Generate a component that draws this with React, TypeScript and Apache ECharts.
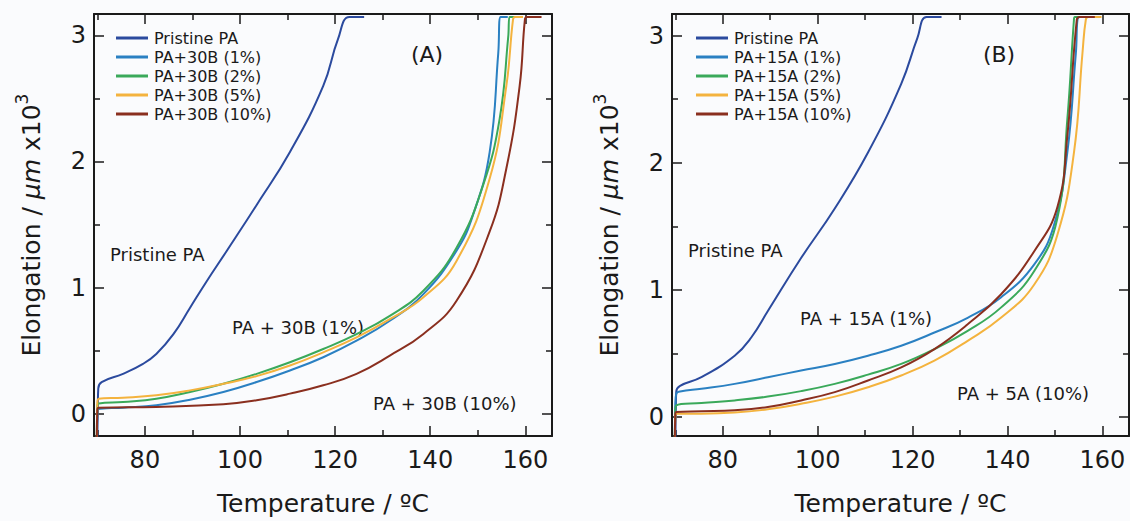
import React, { useEffect, useRef } from "react";
import * as echarts from "echarts";

// ---------- Data (Temperature °C, Elongation µm x10^3) ----------
const pristineA: number[][] = [[70.0,-0.2],[70.1,0.05],[70.2,0.2],[70.9,0.25],[75.4,0.315],[79.6,0.394],[82.4,0.473],[86.0,0.63],[89.5,0.84],[93.0,1.05],[97.2,1.29],[103.5,1.655],[110.5,2.075],[117.5,2.6],[120.6,2.97],[123.0,3.147],[126.1,3.147]];
const pa30b1: number[][] = [[69.9,-0.2],[70.0,0.0],[70.2,0.035],[75.4,0.047],[82.4,0.066],[89.5,0.11],[96.5,0.171],[103.5,0.25],[110.5,0.342],[117.5,0.447],[124.5,0.578],[131.5,0.736],[138.5,0.946],[145.5,1.29],[149.0,1.576],[152.5,2.075],[154.3,2.86],[154.8,3.147],[156.3,3.147]];
const pa30b2: number[][] = [[69.9,-0.2],[70.0,0.05],[70.3,0.079],[75.4,0.092],[82.4,0.118],[89.5,0.171],[96.5,0.236],[103.5,0.315],[110.5,0.407],[117.5,0.512],[124.5,0.63],[131.5,0.775],[138.5,0.972],[145.5,1.313],[151.1,1.81],[154.6,2.34],[156.4,2.99],[156.7,3.147],[158.2,3.147]];
const pa30b5: number[][] = [[69.9,-0.2],[70.0,0.08],[70.3,0.118],[75.4,0.126],[82.4,0.145],[89.5,0.184],[96.5,0.236],[103.5,0.297],[110.5,0.381],[117.5,0.486],[124.5,0.604],[131.5,0.749],[138.5,0.92],[145.5,1.209],[152.5,1.865],[156.0,2.6],[157.4,3.126],[157.8,3.147],[159.5,3.147]];
const pa30b10: number[][] = [[69.9,-0.2],[70.0,0.03],[70.3,0.047],[82.4,0.053],[96.5,0.074],[103.5,0.106],[110.5,0.158],[117.5,0.224],[124.5,0.315],[131.5,0.46],[138.5,0.63],[145.5,0.893],[152.5,1.445],[156.0,1.944],[158.8,2.6],[159.9,3.126],[160.3,3.147],[163.4,3.147]];

const pristineB: number[][] = [[70.0,-0.2],[70.1,0.05],[70.2,0.2],[71.0,0.245],[75.5,0.3125],[82.5,0.482],[86.0,0.625],[89.5,0.833],[96.5,1.25],[103.6,1.64],[110.6,2.08],[117.6,2.62],[121.0,2.98],[122.95,3.146],[126.1,3.146]];
const pa15a1: number[][] = [[69.9,-0.2],[70.0,0.1],[70.2,0.182],[71.0,0.2],[75.5,0.221],[82.5,0.26],[89.5,0.3125],[96.5,0.365],[103.6,0.417],[110.6,0.482],[117.6,0.56],[124.6,0.664],[131.6,0.78],[138.6,0.94],[145.6,1.198],[149.8,1.51],[152.6,2.08],[154.4,2.86],[155.1,3.146],[156.5,3.146]];
const pa15a2: number[][] = [[69.9,-0.2],[70.0,0.05],[70.2,0.091],[75.5,0.109],[82.5,0.13],[89.5,0.16],[96.5,0.203],[103.6,0.26],[110.6,0.333],[117.6,0.417],[124.6,0.534],[131.6,0.677],[138.6,0.86],[145.6,1.146],[150.5,1.5625],[152.6,2.34],[154.0,3.125],[154.2,3.146],[155.5,3.146]];
const pa15a5: number[][] = [[69.9,-0.2],[70.0,0.0],[70.2,0.026],[75.5,0.026],[82.5,0.034],[89.5,0.06],[96.5,0.104],[103.6,0.16],[110.6,0.234],[117.6,0.326],[124.6,0.443],[131.6,0.599],[138.6,0.78],[145.6,1.04],[150.5,1.432],[154.0,2.08],[155.8,2.865],[156.5,3.125],[157.0,3.146],[159.8,3.146]];
const pa15a10: number[][] = [[69.9,-0.2],[70.0,0.02],[70.2,0.039],[75.5,0.044],[82.5,0.052],[89.5,0.078],[96.5,0.13],[103.6,0.195],[110.6,0.287],[117.6,0.39],[124.6,0.534],[131.6,0.729],[138.6,0.963],[145.6,1.302],[150.5,1.65],[152.6,2.21],[154.6,3.125],[155.2,3.146],[158.4,3.146]];

const namesA = ["Pristine PA", "PA+30B (1%)", "PA+30B (2%)", "PA+30B (5%)", "PA+30B (10%)"];
const namesB = ["Pristine PA", "PA+15A (1%)", "PA+15A (2%)", "PA+15A (5%)", "PA+15A (10%)"];
const dataA = [pristineA, pa30b1, pa30b2, pa30b5, pa30b10];
const dataB = [pristineB, pa15a1, pa15a2, pa15a5, pa15a10];
const colors = ["#2b4a9e", "#2a80c2", "#3aa95a", "#f4b33e", "#8a2f1f"];

const xMajor = [80, 100, 120, 140, 160];
const xMinor = [70, 90, 110, 130, 150];
const yMajor = [0, 1, 2, 3];
const yMinor = [0.5, 1.5, 2.5];
const X_MIN = 69.3;
const X_MAX = 165.6;
const Y_MAX = 3.17;

const FONT = "DejaVu Sans";
const INK = "#1a1a1a";

function xAxes(grid: number) {
  const base = { type: "value", gridIndex: grid, min: X_MIN, max: X_MAX, splitLine: { show: false } };
  const tickStyle = { color: INK, width: 1.5 };
  return [
    {
      ...base, position: "bottom",
      axisLine: { show: true, onZero: false, lineStyle: { color: INK, width: 2 } },
      axisTick: { show: true, inside: true, length: 10, customValues: xMajor, lineStyle: tickStyle },
      axisLabel: { show: true, customValues: xMajor, fontSize: 24, fontFamily: FONT, color: INK, margin: 12 },
      name: "Temperature / ºC", nameLocation: "middle", nameGap: 55,
      nameTextStyle: { fontSize: 25, fontFamily: FONT, color: INK },
    },
    {
      ...base, position: "bottom",
      axisLine: { show: false, onZero: false },
      axisTick: { show: true, inside: true, length: 6, customValues: xMinor, lineStyle: tickStyle },
      axisLabel: { show: false },
    },
    {
      ...base, position: "top",
      axisLine: { show: true, onZero: false, lineStyle: { color: INK, width: 2 } },
      axisTick: { show: true, inside: true, length: 10, customValues: xMajor, lineStyle: tickStyle },
      axisLabel: { show: false },
    },
    {
      ...base, position: "top",
      axisLine: { show: false, onZero: false },
      axisTick: { show: true, inside: true, length: 6, customValues: xMinor, lineStyle: tickStyle },
      axisLabel: { show: false },
    },
  ];
}

function yAxes(grid: number, yMin: number) {
  const base = { type: "value", gridIndex: grid, min: yMin, max: Y_MAX, splitLine: { show: false } };
  const tickStyle = { color: INK, width: 1.5 };
  return [
    {
      ...base, position: "left",
      axisLine: { show: true, onZero: false, lineStyle: { color: INK, width: 2 } },
      axisTick: { show: true, inside: true, length: 10, customValues: yMajor, lineStyle: tickStyle },
      axisLabel: { show: true, customValues: yMajor, fontSize: 24, fontFamily: FONT, color: INK, margin: 8 },
      name: "{a|Elongation / }{i|μm}{a| x10}{s|3}", nameLocation: "middle", nameGap: 50, nameRotate: 90,
      nameTextStyle: {
        color: INK, fontFamily: FONT, fontSize: 25,
        rich: {
          a: { fontSize: 25, fontFamily: FONT, color: INK, lineHeight: 31, verticalAlign: "bottom" },
          i: { fontSize: 25, fontFamily: FONT, color: INK, fontStyle: "italic", lineHeight: 31, verticalAlign: "bottom" },
          s: { fontSize: 17, fontFamily: FONT, color: INK, lineHeight: 17, verticalAlign: "top" },
        },
      },
    },
    {
      ...base, position: "left",
      axisLine: { show: false, onZero: false },
      axisTick: { show: true, inside: true, length: 6, customValues: yMinor, lineStyle: tickStyle },
      axisLabel: { show: false },
    },
    {
      ...base, position: "right",
      axisLine: { show: true, onZero: false, lineStyle: { color: INK, width: 2 } },
      axisTick: { show: true, inside: true, length: 10, customValues: yMajor, lineStyle: tickStyle },
      axisLabel: { show: false },
    },
    {
      ...base, position: "right",
      axisLine: { show: false, onZero: false },
      axisTick: { show: true, inside: true, length: 6, customValues: yMinor, lineStyle: tickStyle },
      axisLabel: { show: false },
    },
  ];
}

function seriesFor(names: string[], data: number[][][], axisIdx: number) {
  return data.map((d, i) => ({
    type: "line",
    name: names[i],
    data: d,
    xAxisIndex: axisIdx,
    yAxisIndex: axisIdx,
    showSymbol: false,
    smooth: 0.45,
    lineStyle: { color: colors[i], width: 2 },
    itemStyle: { color: colors[i] },
    silent: true,
  }));
}

function legendFor(names: string[], left: number) {
  return {
    data: names,
    left,
    top: 25,
    orient: "vertical",
    icon: "rect",
    itemWidth: 32,
    itemHeight: 3,
    itemGap: 3,
    selectedMode: false,
    textStyle: { fontSize: 16, fontFamily: FONT, color: INK, lineHeight: 16, padding: [0, 0, 0, 1] },
  };
}

function label(text: string, x: number, y: number, size: number, align = "left") {
  return {
    type: "text",
    x, y,
    silent: true,
    style: {
      text, fill: INK, fontSize: size, fontFamily: FONT,
      align, verticalAlign: "middle", textAlign: align, textVerticalAlign: "middle",
    },
  };
}

export default function App() {
  const ref = useRef<HTMLDivElement>(null);
  useEffect(() => {
    if (!ref.current) return;
    const chart = echarts.init(ref.current, null, { renderer: "svg" });
    chart.setOption({
      animation: false,
      backgroundColor: "#fafbfd",
      grid: [
        { left: 94, top: 14, width: 458, height: 425 },
        { left: 672, top: 14, width: 457, height: 425 },
      ],
      xAxis: [...xAxes(0), ...xAxes(1)],
      yAxis: [...yAxes(0, -0.178), ...yAxes(1, -0.15)],
      legend: [legendFor(namesA, 111), legendFor(namesB, 691)],
      series: [...seriesFor(namesA, dataA, 0), ...seriesFor(namesB, dataB, 4)],
      graphic: [
        label("(A)", 427, 54, 22, "center"),
        label("Pristine PA", 110, 254, 18),
        label("PA + 30B (1%)", 232, 327, 18),
        label("PA + 30B (10%)", 373, 403, 18),
        label("(B)", 999, 54, 22, "center"),
        label("Pristine PA", 688, 250, 18),
        label("PA + 15A (1%)", 800, 318, 18),
        label("PA + 5A (10%)", 957, 393, 18),
      ],
    });
    return () => chart.dispose();
  }, []);
  return (
    <div
      ref={ref}
      style={{ position: "absolute", left: 0, top: 0, width: 1130, height: 521, background: "#fafbfd" }}
    />
  );
}
